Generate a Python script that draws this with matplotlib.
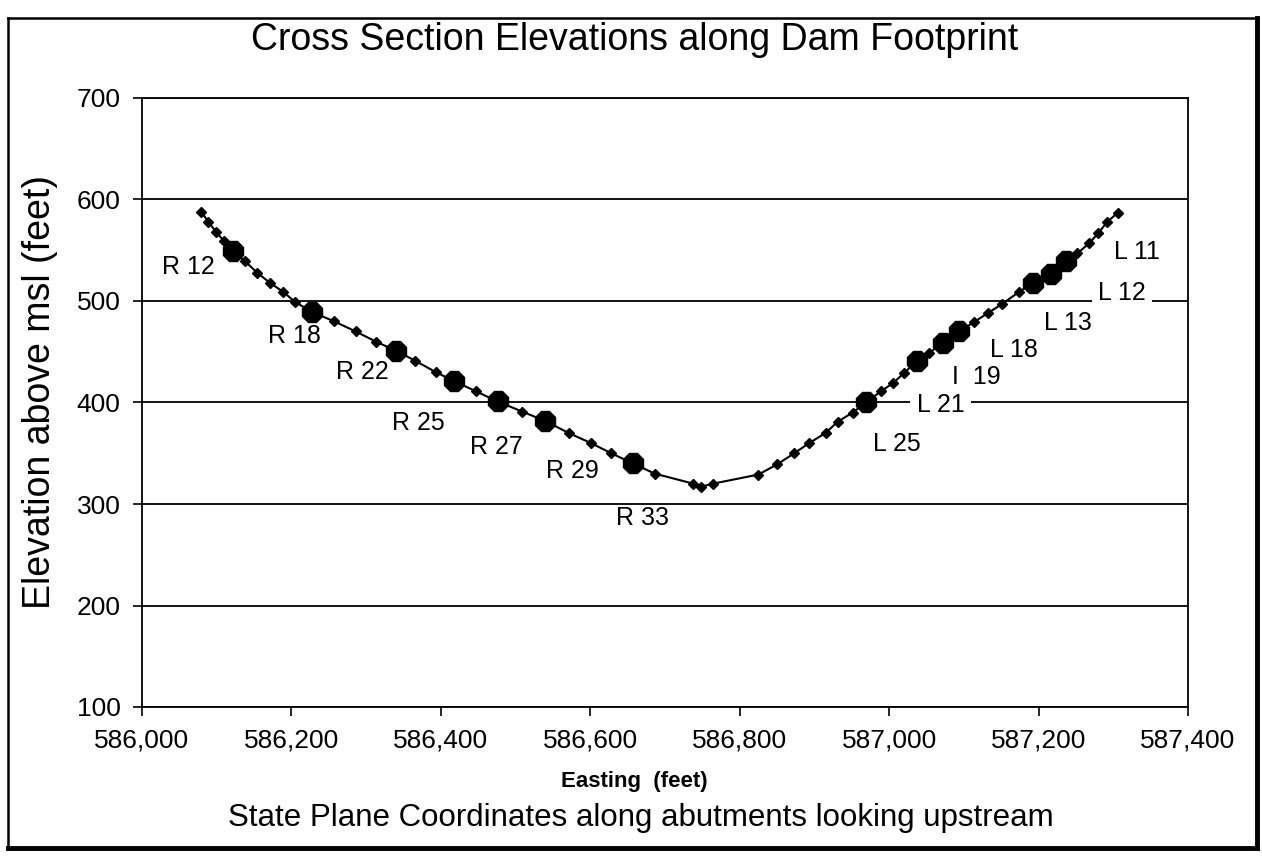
import matplotlib
matplotlib.use("Agg")
import matplotlib.pyplot as plt
from matplotlib.lines import Line2D
from matplotlib.ticker import FuncFormatter, MultipleLocator

plt.rcParams['font.family'] = ['Liberation Sans', 'DejaVu Sans']

# surveyed profile along the dam footprint (easting ft, elevation ft msl)
profile_easting = [586079, 586089, 586099, 586110, 586122, 586138, 586154, 586171,
                   586189, 586205, 586228, 586257, 586286, 586313, 586340, 586366,
                   586393, 586418, 586447, 586476, 586509, 586539, 586571, 586601,
                   586628, 586657, 586686, 586738, 586748, 586764, 586825, 586850,
                   586873, 586893, 586915, 586931, 586951, 586969, 586989, 587005,
                   587020, 587037, 587054, 587072, 587094, 587113, 587132, 587151,
                   587174, 587193, 587217, 587237, 587252, 587268, 587280, 587292,
                   587306]
profile_elev = [588, 578, 568, 559, 549, 539, 528, 518,
                509, 499, 489, 480, 470, 460, 451, 441,
                430, 421, 411, 401, 391, 382, 370, 360,
                350, 340, 330, 320, 317, 320, 329, 339,
                350, 360, 370, 381, 390, 400, 411, 419,
                429, 441, 449, 459, 470, 479, 488, 497,
                509, 518, 527, 539, 547, 557, 567, 578,
                587]

# cross-section stations
station_names = ['R 12', 'R 18', 'R 22', 'R 25', 'R 27', 'R 29', 'R 33',
                 'L 25', 'L 21', 'I  19', 'L 18', 'L 13', 'L 12', 'L 11']
station_easting = [586122, 586228, 586340, 586418, 586476, 586539, 586657,
                   586969, 587037, 587072, 587094, 587193, 587217, 587237]
station_elev = [549, 489, 451, 421, 401, 382, 340,
                400, 441, 459, 470, 518, 527, 539]

y_ticks = [100, 200, 300, 400, 500, 600, 700]

# label offsets from each station marker, points
label_offsets = [(-32, -11), (-13, -17), (-24, -15), (-26, -30), (-1, -33), (20, -36), (7, -39),
                 (22, -30), (17, -32), (24, -25), (39, -13), (25, -29), (51, -14), (51, 7)]
# labels whose white box hides the gridline behind them
boxed_labels = {'L 21', 'L 13', 'L 12'}

W, H = 1262, 861
fig = plt.figure(figsize=(W / 100, H / 100), dpi=100)
ax = fig.add_axes([142 / W, 1 - 707 / H, 1046 / W, 609 / H])

ax.set_xlim(586000, 587400)
ax.set_ylim(100, 700)
ax.xaxis.set_major_locator(MultipleLocator(200))
ax.set_yticks(y_ticks)
ax.xaxis.set_major_formatter(FuncFormatter(lambda v, p: f'{int(v):,}'))
ax.tick_params(direction='out', length=6.5, width=1.2, labelsize=19, pad=9, colors='black')

for v in y_ticks:
    ax.axhline(v, color='black', lw=1.3, zorder=1)
for s in ax.spines.values():
    s.set_linewidth(1.3)
    s.set_color('black')

ax.plot(profile_easting, profile_elev, color='black', lw=1.5, marker='D', ms=5.5, zorder=4)
ax.plot(station_easting, station_elev, ls='none', marker='8', ms=15, color='black', zorder=5)

for name, x, y, off in zip(station_names, station_easting, station_elev, label_offsets):
    box = dict(boxstyle='square,pad=0.25', fc='white', ec='none') if name in boxed_labels else None
    ax.annotate(name, (x, y), xytext=off, textcoords='offset points', ha='center', va='center',
                fontsize=18, zorder=3, bbox=box)

fig.text(0.503, 1 - 40 / H, 'Cross Section Elevations along Dam Footprint', ha='center', va='center', fontsize=27)
fig.text(40 / W, 1 - 392 / H, 'Elevation above msl (feet)', rotation=90, ha='center', va='center', fontsize=27)
fig.text(0.503, 1 - 782 / H, 'Easting  (feet)', ha='center', va='center', fontsize=16, fontweight='bold')
fig.text(0.508, 1 - 818 / H, 'State Plane Coordinates along abutments looking upstream',
         ha='center', va='center', fontsize=22.5)

# outer chart frame, heavier on the right and bottom
fx0, fx1 = 8 / W, 1257 / W
fy0, fy1 = 1 - 848 / H, 1 - 18 / H
fig.add_artist(Line2D([fx0, fx0], [fy0, fy1], color='black', lw=1.8, transform=fig.transFigure))
fig.add_artist(Line2D([fx0, fx1], [fy1, fy1], color='black', lw=1.8, transform=fig.transFigure))
fig.add_artist(Line2D([fx1, fx1], [fy0, fy1], color='black', lw=3.5, transform=fig.transFigure))
fig.add_artist(Line2D([fx0, fx1], [fy0, fy0], color='black', lw=3.5, transform=fig.transFigure))

fig.savefig('out.png', dpi=100, facecolor='white')
